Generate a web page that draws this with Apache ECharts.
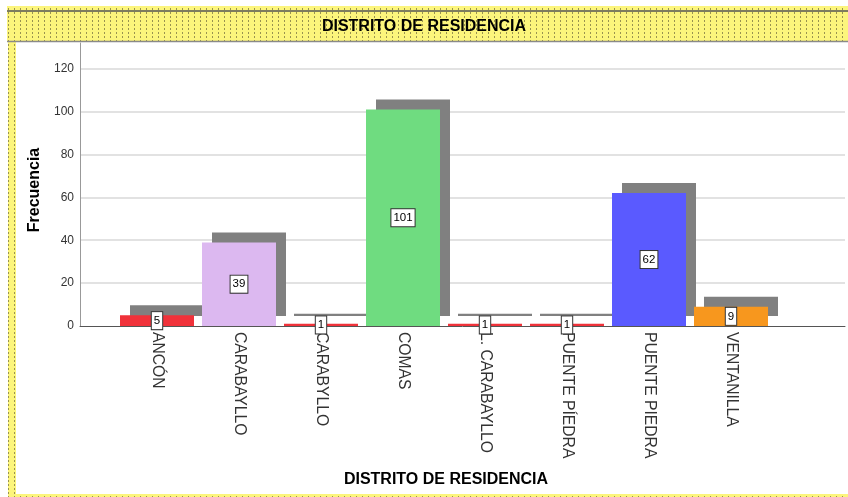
<!DOCTYPE html>
<html>
<head>
  <meta charset="utf-8" />
  <title>Distrito de residencia</title>
  <script src="https://cdn.jsdelivr.net/npm/echarts@6/dist/echarts.min.js"></script>
  <style>
    html, body { margin: 0; padding: 0; background: #fff; }
    #chart { width: 848px; height: 497px; }
  </style>
</head>
<body>
  <div id="chart"></div>
  <script>
    // datos
    const categories = ['ANCÓN', 'CARABAYLLO', 'CARABYLLO', 'COMAS', 'L. CARABAYLLO', 'PUENTE PÍEDRA', 'PUENTE PIEDRA', 'VENTANILLA'];
    const counts = [5, 39, 1, 101, 1, 1, 62, 9];
    const barColors = ['#f0323a', '#dcb8f0', '#f0323a', '#6fdc80', '#f0323a', '#f0323a', '#5a5aff', '#f7971e'];
    const titleText = 'DISTRITO DE RESIDENCIA';
    const xName = 'DISTRITO DE RESIDENCIA';
    const yName = 'Frecuencia';

    const FONT = 'Arial, "Liberation Sans", sans-serif';
    const Y_MAX = 132;

    // patrón punteado amarillo del marco
    function makePattern() {
      const c = document.createElement('canvas');
      c.width = 6; c.height = 4;
      const ctx = c.getContext('2d');
      ctx.fillStyle = '#fcf57c';
      ctx.fillRect(0, 0, 6, 4);
      ctx.fillStyle = '#99934f';
      ctx.fillRect(2, 0, 1, 2);
      return { image: c, repeat: 'repeat' };
    }
    const pattern = makePattern();

    const chart = echarts.init(document.getElementById('chart'), null, { renderer: 'canvas' });

    const barData = counts.map((v, i) => ({ value: v, itemStyle: { color: barColors[i] } }));

    const option = {
      animation: false,
      backgroundColor: '#fff',
      grid: [
        { left: 80, right: 3, top: 43, bottom: 171 },
        { left: 116, right: 76, top: 43, bottom: 171 }
      ],
      xAxis: [
        {
          gridIndex: 0, type: 'value', min: 0, max: 1,
          axisLine: { show: true, onZero: false, lineStyle: { color: '#555', width: 1 } },
          axisTick: { show: false }, axisLabel: { show: false }, splitLine: { show: false }
        },
        {
          gridIndex: 1, type: 'category', data: categories,
          axisLine: { show: false }, axisTick: { show: false },
          axisLabel: {
            rotate: -90, margin: 6, interval: 0,
            fontFamily: FONT, fontSize: 15.7, color: '#333'
          }
        }
      ],
      yAxis: [
        {
          gridIndex: 0, type: 'value', min: 0, max: Y_MAX, interval: 20,
          axisLine: { show: true, lineStyle: { color: '#999', width: 1 } },
          axisTick: { show: false },
          axisLabel: { margin: 6, fontFamily: FONT, fontSize: 12, color: '#333', showMaxLabel: false },
          splitLine: { show: true, showMinLine: false, showMaxLine: false, lineStyle: { color: '#d8d8d8', width: 1.5 } }
        },
        {
          gridIndex: 1, type: 'value', min: 0, max: Y_MAX, show: false,
          splitLine: { show: false }
        }
      ],
      series: [
        {
          type: 'bar',
          xAxisIndex: 1, yAxisIndex: 1,
          data: barData,
          barWidth: 74,
          itemStyle: {
            shadowColor: '#808080',
            shadowBlur: 0,
            shadowOffsetX: 10,
            shadowOffsetY: -10
          },
          label: {
            show: true, position: 'inside',
            fontFamily: FONT, fontSize: 11.5, color: '#000',
            backgroundColor: '#fff', borderColor: '#333', borderWidth: 1,
            padding: [2, 2, 2, 2], lineHeight: 13
          },
          emphasis: { disabled: true }
        }
      ],
      graphic: [
        // marco izquierdo y barra inferior
        { type: 'rect', z: 100, shape: { x: 8, y: 40, width: 8, height: 457 }, style: { fill: pattern } },
        { type: 'rect', z: 100, shape: { x: 8, y: 494, width: 840, height: 3 }, style: { fill: pattern } },
        // barra del título
        { type: 'rect', z: 100, shape: { x: 7, y: 6, width: 841, height: 36 }, style: { fill: pattern } },
        { type: 'line', z: 101, shape: { x1: 7, y1: 11, x2: 848, y2: 11 }, style: { stroke: '#555', lineWidth: 1.5 } },
        { type: 'line', z: 101, shape: { x1: 7, y1: 41.5, x2: 848, y2: 41.5 }, style: { stroke: '#8a8a8a', lineWidth: 1.5 } },
        {
          type: 'text', z: 102, left: 'center', top: 19,
          style: { text: titleText, font: 'bold 16px ' + FONT, fill: '#000' }
        },
        {
          type: 'text', z: 102, x: 446, y: 480,
          style: { text: xName, font: 'bold 16px ' + FONT, fill: '#000', align: 'center', verticalAlign: 'middle' }
        },
        {
          type: 'text', z: 102, x: 35, y: 190, rotation: Math.PI / 2,
          style: { text: yName, font: 'bold 16px ' + FONT, fill: '#000', align: 'center', verticalAlign: 'middle' }
        }
      ]
    };

    chart.setOption(option);
  </script>
</body>
</html>
